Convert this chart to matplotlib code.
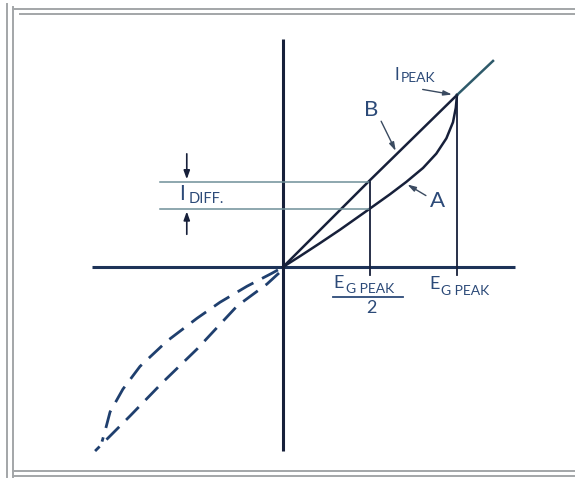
import matplotlib
matplotlib.use("Agg")
import matplotlib.pyplot as plt

# Pixel layout of the drawing: origin of the axes cross and scale (px per unit)
W, H = 575, 481
X0, Y0 = 283, 268
SX, SY = 174, 172

# Curve A (lower branch, rising to the peak), in units of E_G PEAK / I_PEAK
a_x = [0.0, 0.098, 0.213, 0.328, 0.489, 0.615, 0.709, 0.805, 0.881, 0.939, 0.977, 0.993, 1.0]
a_y = [0.0, 0.063, 0.139, 0.217, 0.332, 0.423, 0.495, 0.576, 0.659, 0.748, 0.842, 0.925, 1.0]

# Curve B (upper branch), straight from the origin to the peak
b_x = [0.0, 0.489, 1.0]
b_y = [0.0, 0.494, 1.0]
# B continued past the peak
b_ext_x = [1.0, 1.207]
b_ext_y = [1.0, 1.198]

# Dashed continuations in the third quadrant
da_x = [-0.029, -0.063, -0.207, -0.362, -0.494, -0.667, -0.822, -0.920, -0.994, -1.023, -1.040]
da_y = [-0.017, -0.036, -0.112, -0.205, -0.298, -0.431, -0.578, -0.710, -0.843, -0.955, -1.015]
db_x = [-0.023, -0.092, -0.264, -0.494, -0.690, -0.879, -1.080]
db_y = [-0.035, -0.099, -0.227, -0.477, -0.669, -0.866, -1.070]

e_half = 0.5
e_peak = 1.0
i_b_half = 0.494   # curve B at E_G PEAK / 2
i_a_half = 0.339   # curve A at E_G PEAK / 2

line_col = "#17203a"
text_col = "#2c4a78"
thin_col = "#6f8f98"
frame_col = "#a3a6a8"

fig = plt.figure(figsize=(W / 100, H / 100), dpi=100)
ax = fig.add_axes([0, 0, 1, 1])
ax.set_xlim(-X0 / SX, (W - X0) / SX)
ax.set_ylim(-(H - Y0) / SY, Y0 / SY)
ax.axis("off")

# frame, in figure pixels
frame = [((7, 7), (5, 478)), ((13, 13), (8, 478)),
         ((13, 575), (10, 10)), ((20, 575), (15, 15)),
         ((13, 575), (472, 472)), ((13, 575), (477, 477))]
for xs, ys in frame:
    fig.add_artist(plt.Line2D([x / W for x in xs], [1 - y / H for y in ys],
                              color=frame_col, lw=1.4))

# axes cross
ax.plot([-1.098, 1.333], [0, 0], color="#1d3358", lw=2.2, solid_capstyle="butt")
ax.plot([0, 0], [-1.070, 1.326], color=line_col, lw=2.2, solid_capstyle="butt")

# curves
ax.plot(a_x, a_y, color=line_col, lw=1.8, solid_joinstyle="round")
ax.plot(b_x, b_y, color=line_col, lw=1.8)
ax.plot(b_ext_x, b_ext_y, color="#2e5a6a", lw=1.8)
ax.plot(da_x, da_y, color="#1f3f6e", lw=2.0, dashes=(6.5, 3.5), dash_joinstyle="round")
ax.plot(db_x, db_y, color="#1f3f6e", lw=2.0, dashes=(6.5, 3.5), dash_joinstyle="round")

# projection lines
ax.plot([-0.707, e_half], [i_b_half, i_b_half], color=thin_col, lw=1.1)
ax.plot([-0.707, e_half], [i_a_half, i_a_half], color=thin_col, lw=1.1)
ax.plot([e_half, e_half], [-0.047, i_b_half], color=line_col, lw=1.3)
ax.plot([e_peak, e_peak], [-0.047, 1.0], color=line_col, lw=1.3)

# I_DIFF arrows
arr = dict(arrowstyle="-|>,head_length=0.5,head_width=0.18", color=line_col, lw=1.2)
ax.annotate("", xy=(-0.553, i_b_half), xytext=(-0.553, 0.674), arrowprops=arr)
ax.annotate("", xy=(-0.553, i_a_half), xytext=(-0.553, 0.174), arrowprops=arr)

font = dict(family=["Lato", "DejaVu Sans"], color=text_col)
ax.text(-0.578, 0.433, "I", fontsize=15, ha="center", va="center", **font)
ax.text(-0.545, 0.404, "DIFF.", fontsize=10.5, ha="left", va="center", **font)

# labels with pointer arrows
parr = dict(arrowstyle="-|>,head_length=0.5,head_width=0.15", color="#3a4a60", lw=1.0)
ax.text(0.509, 0.919, "B", fontsize=16, ha="center", va="center", **font)
ax.annotate("", xy=(0.655, 0.66), xytext=(0.557, 0.862), arrowprops=parr)
ax.text(0.888, 0.390, "A", fontsize=16, ha="center", va="center", **font)
ax.annotate("", xy=(0.701, 0.488), xytext=(0.835, 0.407), arrowprops=parr)

ax.text(0.652, 1.122, "I", fontsize=12, ha="center", va="center", **font)
ax.text(0.678, 1.102, "PEAK", fontsize=10, ha="left", va="center", **font)
ax.annotate("", xy=(0.987, 1.0), xytext=(0.787, 1.035), arrowprops=parr)

ax.text(0.871, -0.093, "E", fontsize=13, ha="center", va="center", **font)
ax.text(0.910, -0.134, "G PEAK", fontsize=10, ha="left", va="center", **font)
ax.text(0.322, -0.087, "E", fontsize=13, ha="center", va="center", **font)
ax.text(0.362, -0.122, "G PEAK", fontsize=10, ha="left", va="center", **font)
ax.plot([0.287, 0.690], [-0.174, -0.174], color=text_col, lw=1.3)
ax.text(0.506, -0.232, "2", fontsize=13, ha="center", va="center", **font)

fig.savefig("out.png", dpi=100)
